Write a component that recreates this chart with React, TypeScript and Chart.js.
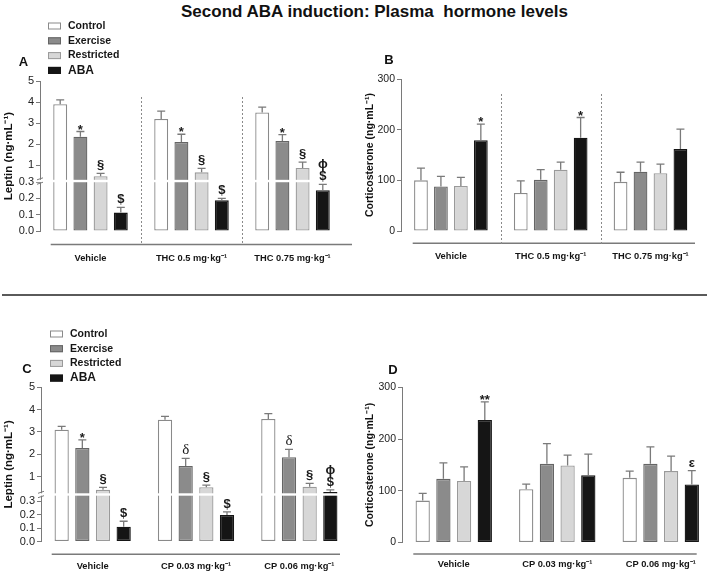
import React, { useEffect, useRef } from 'react';
import { Chart, registerables, LinearScale } from 'chart.js';

Chart.register(...registerables);

// ---------------- DATA ----------------
const seriesNames = ['Control', 'Exercise', 'Restricted', 'ABA'];

const thcGroups = ['Vehicle', 'THC 0.5 mg·kg⁻¹', 'THC 0.75 mg·kg⁻¹'];
const cpGroups = ['Vehicle', 'CP 0.03 mg·kg⁻¹', 'CP 0.06 mg·kg⁻¹'];

const leptinTicks = [0, 0.1, 0.2, 0.3, 1, 2, 3, 4, 5];
const corticoTicks = [0, 100, 200, 300];

// Panel A – leptin (ng/mL), THC
const aControl = [3.9, 3.2, 3.5];
const aControlSem = [0.2, 0.37, 0.26];
const aExercise = [2.35, 2.1, 2.15];
const aExerciseSem = [0.25, 0.37, 0.3];
const aRestricted = [0.48, 0.66, 0.87];
const aRestrictedSem = [0.13, 0.19, 0.28];
const aAba = [0.113, 0.188, 0.25];
const aAbaSem = [0.032, 0.012, 0.036];
const aMarks = [['', '', ''], ['*', '*', '*'], ['§', '§', '§'], ['$', '$', 'ϕ\n$']];

// Panel B – corticosterone (ng/mL), THC
const bControl = [100, 75, 97];
const bControlSem = [24, 24, 19];
const bExercise = [88, 101, 117];
const bExerciseSem = [20, 20, 19];
const bRestricted = [89, 121, 114];
const bRestrictedSem = [17, 15, 18];
const bAba = [179, 184, 162];
const bAbaSem = [32, 40, 39];
const bMarks = [['', '', ''], ['', '', ''], ['', '', ''], ['*', '*', '']];

// Panel C – leptin (ng/mL), CP
const cControl = [3.1, 3.55, 3.58];
const cControlSem = [0.15, 0.15, 0.24];
const cExercise = [2.28, 1.48, 1.87];
const cExerciseSem = [0.37, 0.34, 0.35];
const cRestricted = [0.41, 0.53, 0.55];
const cRestrictedSem = [0.11, 0.09, 0.15];
const cAba = [0.11, 0.196, 0.31];
const cAbaSem = [0.04, 0.024, 0.095];
const cMarks = [['', '', ''], ['*', 'δ', 'δ'], ['§', '§', '§'], ['$', '$', 'ϕ\n$']];

// Panel D – corticosterone (ng/mL), CP
const dControl = [81, 103, 125];
const dControlSem = [14, 10, 13];
const dExercise = [123, 152, 152];
const dExerciseSem = [31, 39, 33];
const dRestricted = [119, 149, 138];
const dRestrictedSem = [27, 20, 29];
const dAba = [237, 130, 112];
const dAbaSem = [35, 41, 27];
const dMarks = [['', '', ''], ['', '', ''], ['', '', ''], ['**', '', 'ε']];

// ---------------- STYLE ----------------
const FAM = '"Liberation Sans", Arial, sans-serif';
const FILL = ['#ffffff', '#8b8b8b', '#d7d7d7', '#151515'];
const EDGE = ['#8a8a8a', '#656565', '#9a9a9a', '#151515'];
const AXIS = '#7a7a7a';
Chart.defaults.font.family = FAM;

// Broken (two-segment) linear scale for leptin
class BrokenScale extends LinearScale {
  static id = 'broken';
  brk() {
    const b: any = (this.options as any).brk;
    return b || { at: 0.3, low: 49, gap: 2, per: 21, white: 0.5 };
  }
  toU(v: number) {
    const b = this.brk();
    if (v <= b.at) return (v / b.at) * b.low;
    return b.low + b.gap + (v - b.at) * b.per;
  }
  getPixelForValue(value: number) {
    if (value === null || value === undefined || isNaN(value)) return NaN;
    const u0 = this.toU(this.min), u1 = this.toU(this.max);
    return this.getPixelForDecimal((this.toU(value) - u0) / (u1 - u0));
  }
  getValueForPixel(pixel: number) {
    const b = this.brk();
    const u0 = this.toU(this.min), u1 = this.toU(this.max);
    const u = u0 + this.getDecimalForPixel(pixel) * (u1 - u0);
    if (u <= b.low) return (u / b.low) * b.at;
    return b.at + (u - b.low - b.gap) / b.per;
  }
  buildTicks() {
    return leptinTicks.map((v) => ({ value: v }));
  }
  breakPixel() {
    const b = this.brk();
    const u0 = this.toU(this.min), u1 = this.toU(this.max);
    return this.getPixelForDecimal((b.low + b.gap * b.white - u0) / (u1 - u0));
  }
}
Chart.register(BrokenScale as any);

function makeDatasets(values: number[][], sems: number[][], marks: string[][]) {
  return seriesNames.map((name, i) => ({
    label: name,
    data: values[i],
    sem: sems[i],
    marks: marks[i],
    backgroundColor: FILL[i],
    borderColor: EDGE[i],
    borderWidth: 1.3,
    borderSkipped: false,
    categoryPercentage: 0.8,
    barPercentage: 0.69,
  }));
}

function decorPlugin(p: any) {
  return {
    id: 'decor',
    afterDatasetsDraw(chart: any) {
      const ctx = chart.ctx;
      const ys = chart.scales.y;
      const area = chart.chartArea;
      ctx.save();
      if (p.broken) {
        const yb = ys.breakPixel();
        ctx.fillStyle = '#ffffff';
        ctx.fillRect(area.left - 4, yb - 1.2, area.right - area.left + 4, 2.4);
        ctx.strokeStyle = AXIS;
        ctx.lineWidth = 1;
        ctx.beginPath();
        ctx.moveTo(area.left - 3, yb - 1.2);
        ctx.lineTo(area.left + 3, yb - 3.2);
        ctx.moveTo(area.left - 3, yb + 3.2);
        ctx.lineTo(area.left + 3, yb + 1.2);
        ctx.stroke();
      }
      chart.data.datasets.forEach((ds: any, di: number) => {
        const meta = chart.getDatasetMeta(di);
        meta.data.forEach((el: any, i: number) => {
          const v = ds.data[i];
          const top = ys.getPixelForValue(v + ds.sem[i]);
          ctx.strokeStyle = AXIS;
          ctx.lineWidth = 1.3;
          ctx.beginPath();
          ctx.moveTo(el.x, el.y);
          ctx.lineTo(el.x, top);
          ctx.moveTo(el.x - 4, top);
          ctx.lineTo(el.x + 4, top);
          ctx.stroke();
          const mk = ds.marks[i];
          if (mk) {
            const lines = mk.split('\n').reverse();
            ctx.fillStyle = '#1a1a1a';
            ctx.textAlign = 'center';
            ctx.textBaseline = 'alphabetic';
            lines.forEach((t: string, li: number) => {
              let y = top - 4 - li * 12;
              if (t.startsWith('*')) {
                ctx.font = `bold 13px ${FAM}`;
                y = top + 2 - li * 12;
              } else if (t === 'δ') {
                ctx.font = `15px "Liberation Serif", serif`;
              } else {
                ctx.font = `bold 13px ${FAM}`;
              }
              ctx.fillText(t, el.x, y);
            });
          }
        });
      });
      ctx.restore();
    },
    afterDraw(chart: any) {
      const ctx = chart.ctx;
      const xs = chart.scales.x;
      ctx.save();
      // x axis line (detached)
      ctx.strokeStyle = AXIS;
      ctx.lineWidth = 1.4;
      ctx.beginPath();
      ctx.moveTo(p.axisLine.x1, p.axisLine.y);
      ctx.lineTo(p.axisLine.x2, p.axisLine.y);
      ctx.stroke();
      // dotted group separators
      if (p.sep) {
        ctx.setLineDash([2, 2]);
        ctx.lineWidth = 1;
        ctx.strokeStyle = '#8a8a8a';
        for (let i = 0; i < chart.data.labels.length - 1; i++) {
          const x = Math.round((xs.getPixelForTick(i) + xs.getPixelForTick(i + 1)) / 2) + 0.5;
          ctx.beginPath();
          ctx.moveTo(x, p.sep.y1);
          ctx.lineTo(x, p.sep.y2);
          ctx.stroke();
        }
        ctx.setLineDash([]);
      }
      // legend
      if (p.legend) {
        seriesNames.forEach((n, i) => {
          const cy = p.legend.y + i * p.legend.dy;
          ctx.fillStyle = FILL[i];
          ctx.fillRect(p.legend.x, cy - 3.5, 13, 7);
          ctx.strokeStyle = EDGE[i];
          ctx.lineWidth = 1;
          ctx.strokeRect(p.legend.x + 0.5, cy - 3, 12, 6);
          ctx.fillStyle = '#161616';
          ctx.font = `bold ${i === 3 ? 12 : 10.5}px ${FAM}`;
          ctx.textAlign = 'left';
          ctx.textBaseline = 'middle';
          ctx.fillText(n, p.legend.x + 20, cy);
        });
      }
      // panel letter
      ctx.fillStyle = '#111';
      ctx.font = `bold 13px ${FAM}`;
      ctx.textAlign = 'center';
      ctx.textBaseline = 'middle';
      ctx.fillText(p.letter.text, p.letter.x, p.letter.y);
      ctx.restore();
    },
  };
}

function makeConfig(p: any) {
  const yCommon = {
    grid: { display: true, drawOnChartArea: false, drawTicks: true, tickLength: 4, color: AXIS, lineWidth: 1 },
    border: { display: true, color: AXIS, width: 1 },
    afterFit: (s: any) => { s.width = p.area.left; },
  };
  const y = p.broken
    ? {
        ...yCommon,
        type: 'broken',
        min: 0,
        max: 5,
        brk: p.brk,
        ticks: {
          autoSkip: false, padding: 2, color: '#222', font: { size: 11, family: FAM },
          callback: (v: number) => (v < 1 ? Number(v).toFixed(1) : String(v)),
        },
        title: { display: true, text: 'Leptin (ng·mL⁻¹)', color: '#111', font: { size: 11.5, weight: 'bold', family: FAM }, padding: { top: 2, bottom: 0 } },
      }
    : {
        ...yCommon,
        type: 'linear',
        min: 0,
        max: 300,
        afterBuildTicks: (s: any) => { s.ticks = corticoTicks.map((v) => ({ value: v })); },
        ticks: { autoSkip: false, padding: 2, color: '#222', font: { size: 10.5, family: FAM } },
        title: { display: true, text: 'Corticosterone (ng·mL⁻¹)', color: '#111', font: { size: 10.5, weight: 'bold', family: FAM }, padding: { top: 4, bottom: 0 } },
      };
  return {
    type: 'bar',
    data: { labels: p.labels, datasets: makeDatasets(p.values, p.sems, p.marks) },
    options: {
      responsive: false,
      animation: false,
      events: [],
      layout: { padding: { left: 0, top: p.area.top, right: p.w - p.area.right, bottom: 0 } },
      plugins: { legend: { display: false }, tooltip: { enabled: false }, title: { display: false } },
      scales: {
        x: {
          type: 'category',
          grid: { display: false, drawTicks: false },
          border: { display: false },
          ticks: { color: '#151515', font: { size: 9.3, weight: 'bold', family: FAM }, padding: p.xPad, maxRotation: 0, autoSkip: false },
          afterFit: (s: any) => { s.height = p.h - p.area.bottom; },
        },
        y,
      },
    },
    plugins: [decorPlugin(p)],
  };
}

const panels = [
  {
    key: 'A', x: 0, y: 0, w: 358, h: 290, broken: true,
    area: { left: 40, right: 343, top: 81, bottom: 231 },
    brk: { at: 0.3, low: 49, gap: 2.2, per: 21.1, white: 0.5 },
    xPad: 22, labels: thcGroups,
    values: [aControl, aExercise, aRestricted, aAba],
    sems: [aControlSem, aExerciseSem, aRestrictedSem, aAbaSem],
    marks: aMarks,
    letter: { text: 'A', x: 23.5, y: 62 },
    legend: { x: 48, y: 26, dy: 14.8 },
    axisLine: { x1: 50.7, x2: 352, y: 244.5 },
    sep: { y1: 97, y2: 245 },
  },
  {
    key: 'B', x: 360, y: 0, w: 349, h: 290, broken: false,
    area: { left: 41, right: 347, top: 79, bottom: 231 },
    xPad: 20, labels: thcGroups,
    values: [bControl, bExercise, bRestricted, bAba],
    sems: [bControlSem, bExerciseSem, bRestrictedSem, bAbaSem],
    marks: bMarks,
    letter: { text: 'B', x: 29, y: 60 },
    axisLine: { x1: 52.7, x2: 335, y: 243.3 },
    sep: { y1: 94, y2: 244 },
  },
  {
    key: 'C', x: 0, y: 300, w: 358, h: 273, broken: true,
    area: { left: 41, right: 351, top: 87.3, bottom: 241.5 },
    brk: { at: 0.3, low: 40.5, gap: 8.7, per: 22.35, white: 0.75 },
    xPad: 19, labels: cpGroups,
    values: [cControl, cExercise, cRestricted, cAba],
    sems: [cControlSem, cExerciseSem, cRestrictedSem, cAbaSem],
    marks: cMarks,
    letter: { text: 'C', x: 27, y: 69 },
    legend: { x: 50, y: 34, dy: 14.7 },
    axisLine: { x1: 51.7, x2: 340, y: 254.3 },
  },
  {
    key: 'D', x: 360, y: 300, w: 356, h: 273, broken: false,
    area: { left: 42, right: 352.5, top: 87.3, bottom: 242.5 },
    xPad: 16.5, labels: cpGroups,
    values: [dControl, dExercise, dRestricted, dAba],
    sems: [dControlSem, dExerciseSem, dRestrictedSem, dAbaSem],
    marks: dMarks,
    letter: { text: 'D', x: 33, y: 70 },
    axisLine: { x1: 53.3, x2: 336.7, y: 254 },
  },
];

function Panel({ p }: { p: any }) {
  const ref = useRef<HTMLCanvasElement | null>(null);
  useEffect(() => {
    if (!ref.current) return;
    const chart = new Chart(ref.current, makeConfig(p) as any);
    return () => chart.destroy();
  }, []);
  return (
    <canvas
      ref={ref}
      width={p.w}
      height={p.h}
      style={{ position: 'absolute', left: p.x, top: p.y, width: p.w, height: p.h }}
    />
  );
}

export default function App() {
  return (
    <div
      style={{
        position: 'absolute', left: 0, top: 0, width: 709, height: 573,
        overflow: 'hidden', background: '#ffffff', fontFamily: FAM,
      }}
    >
      <div
        style={{
          position: 'absolute', left: 20, top: 2, width: 709, textAlign: 'center',
          fontWeight: 'bold', fontSize: 17, lineHeight: '20px', color: '#111', whiteSpace: 'pre',
        }}
      >
        {'Second ABA induction: Plasma  hormone levels'}
      </div>
      <div style={{ position: 'absolute', left: 2, top: 294, width: 705, height: 1.5, background: '#5a5a5a' }} />
      {panels.map((p) => (
        <Panel key={p.key} p={p} />
      ))}
    </div>
  );
}
